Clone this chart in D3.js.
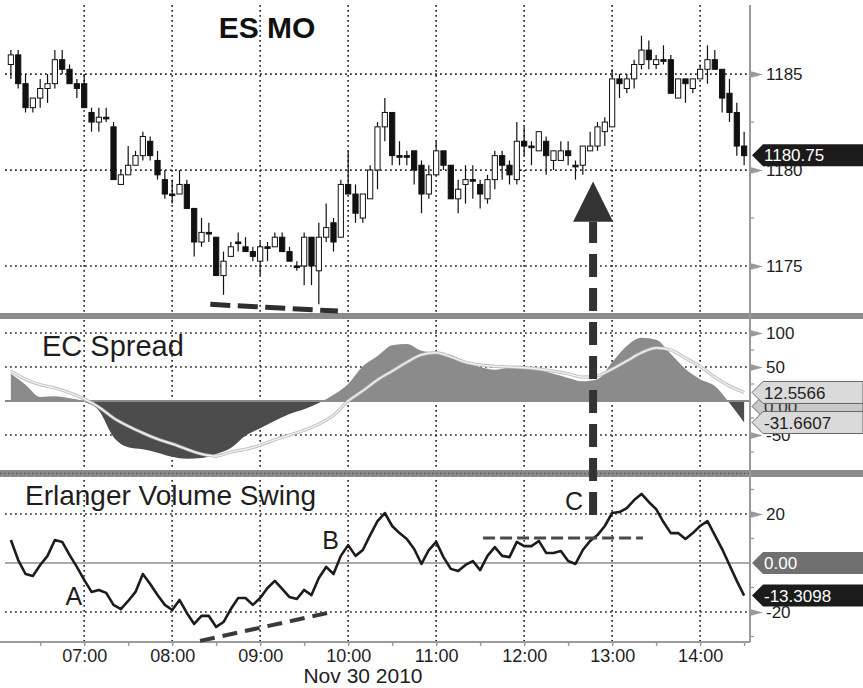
<!DOCTYPE html>
<html>
<head>
<meta charset="utf-8">
<script src="https://cdn.jsdelivr.net/npm/d3@7"></script>
<style>
  body { margin: 0; background: #fff; }
  svg { display: block; font-family: "Liberation Sans", Arial, Helvetica, sans-serif; }
</style>
</head>
<body>
<svg id="chart" width="863" height="688"></svg>
<script>
// ---- 5-minute ES bars, Nov 30 2010, starting 06:10 ----
const opens  = [1185.5,1186,1184.5,1183.25,1183.75,1184.25,1184.5,1185.75,1185.25,1184.5,
  1184.5,1183,1182.5,1182.75,1182.25,1179.25,1179.75,1180.25,1180.75,1181.5,
  1180.5,1179.5,1178.75,1178.75,1179.25,1178,1176.25,1176.75,1176.5,1174.5,
  1175.5,1176.25,1176,1175.75,1175.25,1176,1176,1176.5,1175.75,1175,
  1175,1176.5,1174.75,1176.5,1177.25,1176.5,1179.25,1178.75,1177.5,1178.5,
  1180,1182.25,1183,1180.75,1180.75,1181,1180.25,1178.75,1179.75,1181,
  1180.25,1178.5,1179.25,1179.5,1179.25,1178.5,1179.5,1180.75,1180.25,1179.5,
  1181.5,1181.25,1181,1181.5,1180.5,1180.5,1181,1180.25,1180.25,1181,
  1181.25,1182,1182.25,1184.75,1184.25,1184.75,1185.5,1186.25,1185.5,1185.75,
  1185.75,1183.75,1184.75,1184.25,1184.75,1185.25,1185.75,1185.25,1184,1183,
  1181.25];
const highs  = [1186.25,1186.25,1185,1183.75,1184.75,1185,1186.25,1186.25,1185.5,1184.75,
  1185,1183.25,1183.25,1183.25,1182.5,1180,1181.25,1181,1182,1181.75,
  1181,1180,1179.5,1180,1179.5,1178,1177.5,1177.25,1176.5,1175.75,
  1176.25,1176.75,1176.5,1176,1176.25,1176.25,1176.75,1176.75,1176,1175.25,
  1176.75,1176.5,1177.25,1178.25,1177.5,1179.5,1181,1179.25,1178.75,1180.25,
  1182.5,1183.75,1183,1181.5,1181,1181,1180.5,1180.25,1181.5,1181,
  1180.25,1179.5,1180.25,1180.25,1179.5,1179.75,1181,1181,1180.5,1182.5,
  1182.25,1181.5,1182,1181.75,1181,1181.5,1181.5,1180.5,1181.25,1182,
  1182.5,1182.75,1185.25,1185,1185,1185.75,1187,1186.75,1186,1186.5,
  1186,1184.75,1184.75,1184.75,1185.5,1186.5,1186.25,1185.25,1184.75,1183.5,
  1182];
const lows   = [1184.75,1184.25,1183,1183,1183.25,1183.5,1184.25,1185,1184.5,1183.75,
  1183.25,1182,1182,1182.5,1179.5,1179.25,1179.75,1180.25,1180.5,1180.5,
  1179.5,1178.5,1178.25,1178.75,1178,1175.5,1176,1176.25,1174.5,1173.5,
  1175.5,1175.75,1175.75,1175.25,1174.5,1175.25,1176,1175.75,1175.25,1174.75,
  1174,1174,1173,1176.25,1175.75,1176.5,1178.75,1177.25,1177.25,1178.5,
  1179,1181.5,1180.25,1180.25,1180.25,1179.25,1177.75,1178.5,1179.75,1180,
  1178.5,1177.75,1178.25,1178.5,1178,1178.25,1179,1179.5,1179.25,1179.25,
  1180.75,1180.25,1181,1179.75,1180,1180.5,1180.25,1179.5,1179.75,1181,
  1181,1181.25,1182.25,1183.75,1184,1184.25,1185.25,1185.25,1185.25,1185.5,
  1184,1183.75,1183.5,1184,1184.75,1184.5,1185.25,1183,1182.5,1180.75,
  1180.25];
const closes = [1186,1184.5,1183.25,1183.75,1184.25,1184.5,1185.75,1185.25,1184.5,1184.25,
  1183.25,1182.5,1182.75,1182.75,1179.5,1179.75,1180.25,1180.75,1181.75,1180.75,
  1179.75,1178.75,1178.75,1179.25,1178,1176.25,1176.75,1176.75,1174.5,1175.25,
  1176,1176.25,1175.75,1175.5,1176,1176,1176.5,1175.75,1175.25,1175,
  1176.5,1175,1176.5,1177,1176.25,1179.25,1178.75,1177.75,1178.75,1180,
  1182.25,1183,1180.75,1180.75,1180.75,1180,1178.75,1179.75,1181,1180.25,
  1178.5,1179,1179.5,1179.5,1178.75,1179.5,1180.75,1180.25,1179.75,1181.5,
  1181.25,1181.25,1182,1180.75,1181,1181,1180.75,1180.25,1181.25,1181.25,
  1182.25,1182.5,1184.75,1184.5,1184.75,1185.5,1186.25,1185.75,1185.75,1185.75,
  1184,1184.75,1184.5,1184.75,1185.25,1185.75,1185.25,1183.75,1183,1181.25,
  1180.75];

// ---- EC Spread area and its signal, 10-minute steps from 06:10 ----
const ecSpread = [40,24,6,7,4,-1,-14,-53,-68,-71,-76,-82,-85,-84,-78,-69,-51,-40,-29,-19,
  -12,-3,9,25,51,66,82,84,74,71,68,57,50,46,49,49,46,40,34,29,
  32,57,81,93,90,69,47,32,22,-3,-31.6607];
const ecSignal = [44,32,24,19,12,3,-9,-25,-37,-47,-56,-63,-71,-78,-81,-75,-71,-65,-57,-50,
  -43,-34,-21,0,15,31,44,57,68,71,65,57,53,51,50,49,47,44,40,35,
  37,47,59,71,78,75,63,51,35,22,12.5566];

// ---- Erlanger Volume Swing, 5-minute steps from 06:10 ----
const volumeSwing = [9.4,1.2,-4.5,-5.3,-0.8,2.9,9.4,8.6,3.3,-1.6,
  -6.9,-11.8,-11.0,-12.2,-17.1,-18.8,-15.5,-11.8,-4.5,-8.6,
  -13.1,-17.1,-19.2,-15.1,-20.4,-24.9,-21.6,-21.6,-26.1,-24.1,
  -18.8,-14.3,-14.3,-17.1,-14.3,-10.2,-7.3,-10.6,-13.9,-14.7,
  -11.0,-13.1,-6.1,-1.6,-4.5,2.9,7.3,2.9,5.3,11.4,
  17.1,20.4,15.1,12.2,9.8,5.7,-0.4,5.3,8.6,2.4,
  -2.4,-3.3,-0.8,0.8,-2.9,2.9,6.5,2.9,2.4,8.6,
  6.9,6.9,9.0,4.1,4.1,4.9,0.8,-0.4,5.3,9.0,
  11.4,15.1,20.4,20.8,22.4,25.7,28.2,24.9,22.0,16.7,
  12.2,12.2,9.8,12.2,15.1,17.1,11.4,5.7,-0.8,-7.3,
  -13.3098];

// ---- axis ticks ----
const hourLabels  = ["07:00","08:00","09:00","10:00","11:00","12:00","13:00","14:00"];
const priceTicks  = [1185, 1180, 1175];
const spreadTicks = [100, 50, -50];
const swingTicks  = [20, -20];
const dateLabel   = "Nov 30 2010";

// ---- annotations (time, value) ----
const priceDashLine = [["08:26", 1173.0], ["09:53", 1172.65]];
const swingDashLine = [["08:19", -31.8], ["09:46", -20.4]];
const swingLevelLine = [["11:32", 10.2], ["13:21", 10.2]];
const arrowTime = "12:47", arrowFromSwing = 19.6, arrowBasePrice = 1177.3, arrowTipPrice = 1179.4;
const pointLabels = [["A", "06:53", -17.1], ["B", "09:48", 5.7], ["C", "12:34", 21.6]];

// ================= drawing =================
const svg = d3.select("#chart");
const loc = d3.formatLocale({ decimal: ".", thousands: ",", grouping: [3], currency: ["$", ""], minus: "-" });
const fmtInt = loc.format("d"), fmt2 = loc.format(".2f"), fmt4 = loc.format(".4f");
const day = (hm) => { const [h, m] = hm.split(":").map(Number); return new Date(2010, 10, 30, h, m); };
const t0 = day("06:10");
const barTime = i => d3.timeMinute.offset(t0, 5 * i);
const ecTime  = k => d3.timeMinute.offset(t0, 10 * k);

const L = 5, R = 750;
const x = d3.scaleTime().domain([day("06:06"), day("14:34")]).range([L, R]);

const P1 = { top: 5, bottom: 313 }, P2 = { top: 319, bottom: 470 }, P3 = { top: 477, bottom: 642 };
const yP = d3.scaleLinear().domain([1172.55, 1188.6]).range([P1.bottom, P1.top]);
const yE = d3.scaleLinear().domain([-101.5, 120.6]).range([P2.bottom, P2.top]);
const yV = d3.scaleLinear().domain([-32.25, 35.1]).range([P3.bottom, P3.top]);

const defs = svg.append("defs");
[["c1", P1], ["c2", P2], ["c3", P3]].forEach(([id, p]) => {
  defs.append("clipPath").attr("id", id).append("rect")
    .attr("x", L).attr("y", p.top).attr("width", R - L).attr("height", p.bottom - p.top);
});

const grid = svg.append("g").attr("stroke", "#2e2e2e").attr("stroke-width", 1.7).attr("stroke-dasharray", "1.8,3.2");
const hours = hourLabels.map(day);
grid.selectAll(".v").data(hours).join("line")
  .attr("x1", d => x(d)).attr("x2", d => x(d)).attr("y1", P1.top).attr("y2", P3.bottom);
grid.selectAll(".hp").data(priceTicks).join("line")
  .attr("x1", L).attr("x2", R).attr("y1", d => yP(d)).attr("y2", d => yP(d));
grid.selectAll(".he").data(spreadTicks).join("line")
  .attr("x1", L).attr("x2", R).attr("y1", d => yE(d)).attr("y2", d => yE(d));
grid.selectAll(".hv").data(swingTicks).join("line")
  .attr("x1", L).attr("x2", R).attr("y1", d => yV(d)).attr("y2", d => yV(d));

// ---------- EC Spread panel ----------
const ec = svg.append("g").attr("clip-path", "url(#c2)");
const ecPts = ecSpread.map((v, k) => ({ t: ecTime(k), v }));
const area = d3.area().x(d => x(d.t)).y0(yE(0)).y1(d => yE(d.v)).curve(d3.curveMonotoneX);
defs.append("clipPath").attr("id", "pos").append("rect")
  .attr("x", L).attr("y", P2.top).attr("width", R - L).attr("height", yE(0) - P2.top);
defs.append("clipPath").attr("id", "neg").append("rect")
  .attr("x", L).attr("y", yE(0)).attr("width", R - L).attr("height", P2.bottom - yE(0));
ec.append("g").attr("clip-path", "url(#pos)").append("path").datum(ecPts)
  .attr("d", area).attr("fill", "#8b8b8b");
ec.append("g").attr("clip-path", "url(#neg)").append("path").datum(ecPts)
  .attr("d", area).attr("fill", "#4c4c4c");
ec.append("line").attr("x1", L).attr("x2", R).attr("y1", yE(0)).attr("y2", yE(0))
  .attr("stroke", "#8a8a8a").attr("stroke-width", 2);
const sigLine = d3.line().x((d, k) => x(ecTime(k))).y(d => yE(d)).curve(d3.curveMonotoneX);
ec.append("path").datum(ecSignal).attr("d", sigLine).attr("fill", "none")
  .attr("stroke", "#bdbdbd").attr("stroke-width", 3.2);
ec.append("path").datum(ecSignal).attr("d", sigLine).attr("fill", "none")
  .attr("stroke", "#f0f0f0").attr("stroke-width", 1.4);

// ---------- Volume Swing panel ----------
const vs = svg.append("g").attr("clip-path", "url(#c3)");
vs.append("line").attr("x1", L).attr("x2", R).attr("y1", yV(0)).attr("y2", yV(0))
  .attr("stroke", "#8f8f8f").attr("stroke-width", 1.6);
vs.append("path").datum(volumeSwing)
  .attr("d", d3.line().x((d, i) => x(barTime(i))).y(d => yV(d)))
  .attr("fill", "none").attr("stroke", "#1c1c1c").attr("stroke-width", 2.6)
  .attr("stroke-linejoin", "round");

// ---------- candlesticks ----------
const bars = closes.map((c, i) => ({ t: barTime(i), o: opens[i], h: highs[i], l: lows[i], c }));
const cg = svg.append("g").attr("clip-path", "url(#c1)");
const candle = cg.selectAll("g").data(bars).join("g").attr("transform", d => `translate(${x(d.t)},0)`);
candle.append("line").attr("y1", d => yP(d.h)).attr("y2", d => yP(d.l))
  .attr("stroke", "#111").attr("stroke-width", 1.2);
candle.append("rect")
  .attr("x", -2.6).attr("width", 5.2)
  .attr("y", d => yP(Math.max(d.o, d.c)))
  .attr("height", d => Math.max(1.6, Math.abs(yP(d.o) - yP(d.c))))
  .attr("fill", d => d.c > d.o ? "#fff" : "#111")
  .attr("stroke", "#111").attr("stroke-width", 1);

// ---------- separators, axes frame ----------
svg.append("rect").attr("x", 0).attr("y", 313).attr("width", 863).attr("height", 6).attr("fill", "#8c8c8c");
svg.append("rect").attr("x", 0).attr("y", 470).attr("width", 863).attr("height", 7).attr("fill", "#8c8c8c");
svg.append("line").attr("x1", 0).attr("x2", R).attr("y1", 473.5).attr("y2", 473.5)
  .attr("stroke", "#5a5a5a").attr("stroke-width", 1.5).attr("stroke-dasharray", "1.6,2.4");
svg.append("line").attr("x1", R).attr("x2", R).attr("y1", P1.top).attr("y2", P3.bottom)
  .attr("stroke", "#9a9a9a").attr("stroke-width", 2);

// bottom time axis
const xAxis = d3.axisBottom(x).tickValues(d3.timeMinute.every(30).range(day("06:30"), day("14:31")))
  .tickFormat(d => d.getMinutes() === 0 ? d3.timeFormat("%H:%M")(d) : "").tickSize(4).tickPadding(3);
const xa = svg.append("g").attr("transform", `translate(0,${P3.bottom})`).call(xAxis);
xa.select(".domain").attr("d", `M0,0H${R}`).attr("stroke", "#9a9a9a").attr("stroke-width", 2);
xa.selectAll(".tick line").attr("stroke", "#9a9a9a").attr("stroke-width", 1.5);
xa.selectAll(".tick text").attr("font-size", 18).attr("fill", "#1e1e1e")
  .attr("font-family", "'Liberation Sans', Arial, sans-serif");
svg.append("text").attr("x", 363).attr("y", 683).attr("text-anchor", "middle")
  .attr("font-size", 21).attr("fill", "#1e1e1e").text(dateLabel);

// right value axes with arrow markers
function rightAxis(scale, ticks) {
  const g = svg.append("g").attr("transform", `translate(${R},0)`)
    .call(d3.axisRight(scale).tickValues(ticks).tickFormat(fmtInt).tickSize(0).tickPadding(16));
  g.select(".domain").remove();
  g.selectAll(".tick").append("path").attr("d", "M0,-3.5L13,0L0,3.5Z").attr("fill", "#9a9a9a");
  g.selectAll(".tick text").attr("font-size", 17).attr("fill", "#1e1e1e")
    .attr("font-family", "'Liberation Sans', Arial, sans-serif");
  return g;
}
rightAxis(yP, priceTicks);
rightAxis(yE, spreadTicks);
rightAxis(yV, swingTicks);
// minor ticks
const minor = svg.append("g").attr("stroke", "#9a9a9a").attr("stroke-width", 1.3);
[[yP, [1182.5, 1177.5]], [yE, [75, 25, -25, -75]], [yV, [30, 10, -10, -30]]].forEach(([s, vals]) => {
  minor.selectAll(null).data(vals).join("line")
    .attr("x1", R).attr("x2", R + 4).attr("y1", d => s(d)).attr("y2", d => s(d));
});

// value tags (last values)
function tag(yc, text, fill, color, stroke) {
  const h = 22;
  const g = svg.append("g");
  g.append("path")
    .attr("d", `M${R + 2},${yc}L${R + 13},${yc - h / 2}H863V${yc + h / 2}H${R + 13}Z`)
    .attr("fill", fill).attr("stroke", stroke || "none").attr("stroke-width", 1);
  g.append("text").attr("x", R + 14).attr("y", yc).attr("dy", "0.36em")
    .attr("font-size", 17).attr("fill", color).text(text);
}
tag(yP(closes[closes.length - 1]) - 0.5, fmt2(closes[closes.length - 1]), "#1b1b1b", "#fff");
tag(yE(-8), fmt2(0), "#c9c9c9", "#333", "#666");
tag(yE(ecSignal[ecSignal.length - 1]), fmt4(ecSignal[ecSignal.length - 1]), "#dadada", "#1e1e1e", "#666");
tag(yE(ecSpread[ecSpread.length - 1]), fmt4(ecSpread[ecSpread.length - 1]), "#dadada", "#1e1e1e", "#666");
tag(yV(0), fmt2(0), "#707070", "#fff");
tag(yV(volumeSwing[volumeSwing.length - 1]), fmt4(volumeSwing[volumeSwing.length - 1]), "#1b1b1b", "#fff");

// ---------- annotations ----------
const ann = svg.append("g");
ann.append("line")
  .attr("x1", x(day(priceDashLine[0][0]))).attr("y1", yP(priceDashLine[0][1]))
  .attr("x2", x(day(priceDashLine[1][0]))).attr("y2", yP(priceDashLine[1][1]))
  .attr("stroke", "#2e2e2e").attr("stroke-width", 5).attr("stroke-dasharray", "20,7.5");
ann.append("line")
  .attr("x1", x(day(swingDashLine[0][0]))).attr("y1", yV(swingDashLine[0][1]))
  .attr("x2", x(day(swingDashLine[1][0]))).attr("y2", yV(swingDashLine[1][1]))
  .attr("stroke", "#3a3a3a").attr("stroke-width", 4).attr("stroke-dasharray", "15,8");
ann.append("line")
  .attr("x1", x(day(swingLevelLine[0][0]))).attr("y1", yV(swingLevelLine[0][1]))
  .attr("x2", x(day(swingLevelLine[1][0]))).attr("y2", yV(swingLevelLine[1][1]))
  .attr("stroke", "#4a4a4a").attr("stroke-width", 3).attr("stroke-dasharray", "12,5");
const ax = x(day(arrowTime));
ann.append("line").attr("x1", ax).attr("x2", ax)
  .attr("y1", yV(arrowFromSwing)).attr("y2", yP(arrowBasePrice))
  .attr("stroke", "#333").attr("stroke-width", 8).attr("stroke-dasharray", "23,11");
ann.append("path")
  .attr("d", `M${ax},${yP(arrowTipPrice)}L${ax + 20},${yP(arrowBasePrice)}H${ax - 20}Z`)
  .attr("fill", "#333");

// ---------- titles and point labels ----------
svg.append("text").attr("x", 267).attr("y", 38).attr("text-anchor", "middle")
  .attr("font-size", 30).attr("font-weight", "bold").attr("fill", "#111").text("ES MO");
svg.append("text").attr("x", 42).attr("y", 356).attr("font-size", 29).attr("fill", "#1e1e1e").text("EC Spread");
svg.append("text").attr("x", 25).attr("y", 505).attr("font-size", 28).attr("fill", "#1e1e1e").text("Erlanger Volume Swing");
svg.selectAll(".pl").data(pointLabels).join("text")
  .attr("x", d => x(day(d[1]))).attr("y", d => yV(d[2])).attr("text-anchor", "middle")
  .attr("font-size", 25).attr("fill", "#1e1e1e").text(d => d[0]);
</script>
</body>
</html>
